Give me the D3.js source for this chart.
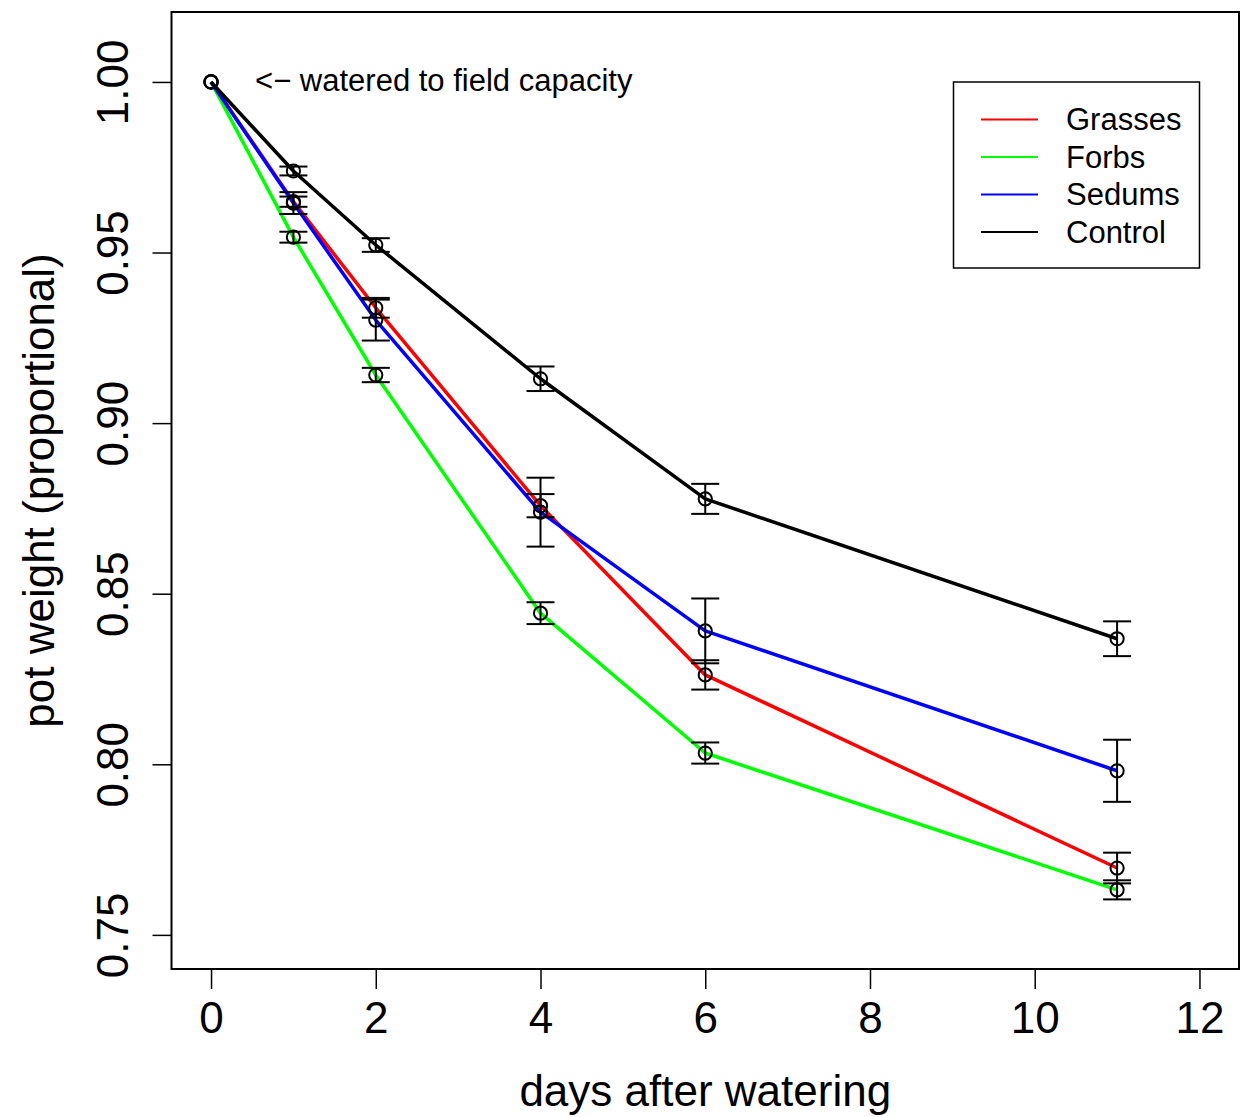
<!DOCTYPE html>
<html>
<head>
<meta charset="utf-8">
<script src="https://cdn.jsdelivr.net/npm/d3@7"></script>
<style>
  html, body { margin: 0; padding: 0; background: #fff; }
  svg { display: block; }
  text { font-family: "Liberation Sans", Arial, Helvetica, sans-serif; fill: #000; }
</style>
</head>
<body>
<svg id="chart" width="1241" height="1117"></svg>
<script>
// ---- data ----
const days = [0, 1, 2, 4, 6, 11];
const grasses   = [1.000, 0.9649, 0.9338, 0.8758, 0.8262, 0.7696];
const grassesSE = [0, 0.0015, 0.0029, 0.0034, 0.0043, 0.0045];
const forbs     = [1.000, 0.9545, 0.9141, 0.8443, 0.8033, 0.7632];
const forbsSE   = [0, 0.0016, 0.0021, 0.0032, 0.0031, 0.0028];
const sedums    = [1.000, 0.9645, 0.9302, 0.8739, 0.8391, 0.7981];
const sedumsSE  = [0, 0.0032, 0.0060, 0.0101, 0.0095, 0.0091];
const control   = [1.000, 0.9739, 0.9522, 0.9130, 0.8778, 0.8368];
const controlSE = [0, 0.0013, 0.0020, 0.0036, 0.0044, 0.0051];

const seriesNames  = ["Grasses", "Forbs", "Sedums", "Control"];
const seriesColors = ["#ff0000", "#00ff00", "#0000ff", "#000000"];
const xTicks = [0, 2, 4, 6, 8, 10, 12];
const yTicks = [0.75, 0.80, 0.85, 0.90, 0.95, 1.00];
const xTitle = "days after watering";
const yTitle = "pot weight (proportional)";
const note = "<\u2212 watered to field capacity";

const series = [
  { name: seriesNames[0], color: seriesColors[0], v: grasses, se: grassesSE },
  { name: seriesNames[1], color: seriesColors[1], v: forbs,   se: forbsSE },
  { name: seriesNames[2], color: seriesColors[2], v: sedums,  se: sedumsSE },
  { name: seriesNames[3], color: seriesColors[3], v: control, se: controlSE }
];

// ---- layout ----
const box = { left: 171.5, right: 1239, top: 12, bottom: 969 };
const x = d3.scaleLinear().domain([-0.48, 12.48]).range([box.left, box.right]);
const y = d3.scaleLinear().domain([0.7400, 1.0205]).range([box.bottom, box.top]);

const svg = d3.select("#chart");

// series lines
const line = d3.line().x((d, i) => x(days[i])).y(d => y(d));
series.forEach(s => {
  svg.append("path")
    .datum(s.v)
    .attr("d", line)
    .attr("fill", "none")
    .attr("stroke", s.color)
    .attr("stroke-width", 3.5)
    .attr("stroke-linejoin", "round");
});

// error bars
const capHalf = 14;
series.forEach(s => {
  s.v.forEach((v, i) => {
    const e = s.se[i];
    if (!e) return;
    const cx = x(days[i]);
    const g = svg.append("g").attr("stroke", "#000").attr("stroke-width", 2);
    g.append("line").attr("x1", cx).attr("x2", cx).attr("y1", y(v - e)).attr("y2", y(v + e));
    g.append("line").attr("x1", cx - capHalf).attr("x2", cx + capHalf).attr("y1", y(v - e)).attr("y2", y(v - e));
    g.append("line").attr("x1", cx - capHalf).attr("x2", cx + capHalf).attr("y1", y(v + e)).attr("y2", y(v + e));
  });
});

// points (open circles)
series.forEach(s => {
  svg.append("g").selectAll("circle")
    .data(s.v)
    .join("circle")
    .attr("cx", (d, i) => x(days[i]))
    .attr("cy", d => y(d))
    .attr("r", 6.6)
    .attr("fill", "none")
    .attr("stroke", "#000")
    .attr("stroke-width", 2);
});

// box
svg.append("rect")
  .attr("x", box.left).attr("y", box.top)
  .attr("width", box.right - box.left).attr("height", box.bottom - box.top)
  .attr("fill", "none").attr("stroke", "#000").attr("stroke-width", 2);

// x axis
const xAxis = d3.axisBottom(x).tickValues(xTicks).tickSize(20).tickPadding(13).tickFormat(d3.format("d"));
const gx = svg.append("g").attr("transform", `translate(0,${box.bottom})`).call(xAxis);
gx.select(".domain").remove();
gx.selectAll(".tick line").attr("stroke-width", 1.5);
gx.selectAll(".tick text").attr("font-size", 44).attr("font-family", "Liberation Sans, Arial, sans-serif");

// y axis
const yAxis = d3.axisLeft(y).tickValues(yTicks).tickSize(19).tickPadding(0).tickFormat(d3.format(".2f"));
const gy = svg.append("g").attr("transform", `translate(${box.left},0)`).call(yAxis);
gy.select(".domain").remove();
gy.selectAll(".tick line").attr("stroke-width", 1.5);
gy.selectAll(".tick text")
  .attr("font-size", 44)
  .attr("font-family", "Liberation Sans, Arial, sans-serif")
  .attr("text-anchor", "middle")
  .attr("dy", 0)
  .attr("x", 0)
  .attr("transform", "translate(-44,0) rotate(-90)");

// axis titles
svg.append("text")
  .attr("x", (box.left + box.right) / 2).attr("y", 1106)
  .attr("text-anchor", "middle").attr("font-size", 44)
  .text(xTitle);
svg.append("text")
  .attr("transform", `translate(54,${(box.top + box.bottom) / 2}) rotate(-90)`)
  .attr("text-anchor", "middle").attr("font-size", 44)
  .text(yTitle);

// annotation
svg.append("text")
  .attr("x", x(0) + 44).attr("y", y(1.0) + 9)
  .attr("font-size", 31)
  .text(note);

// legend
const lg = svg.append("g");
lg.append("rect")
  .attr("x", 953.5).attr("y", 82).attr("width", 246).attr("height", 186)
  .attr("fill", "#fff").attr("stroke", "#000").attr("stroke-width", 1.5);
const rowY = [119.5, 157, 194.5, 232];
series.forEach((s, i) => {
  lg.append("line")
    .attr("x1", 981).attr("x2", 1038).attr("y1", rowY[i]).attr("y2", rowY[i])
    .attr("stroke", s.color).attr("stroke-width", 2);
  lg.append("text")
    .attr("x", 1066).attr("y", rowY[i] + 10.5)
    .attr("font-size", 31)
    .text(s.name);
});
</script>
</body>
</html>
